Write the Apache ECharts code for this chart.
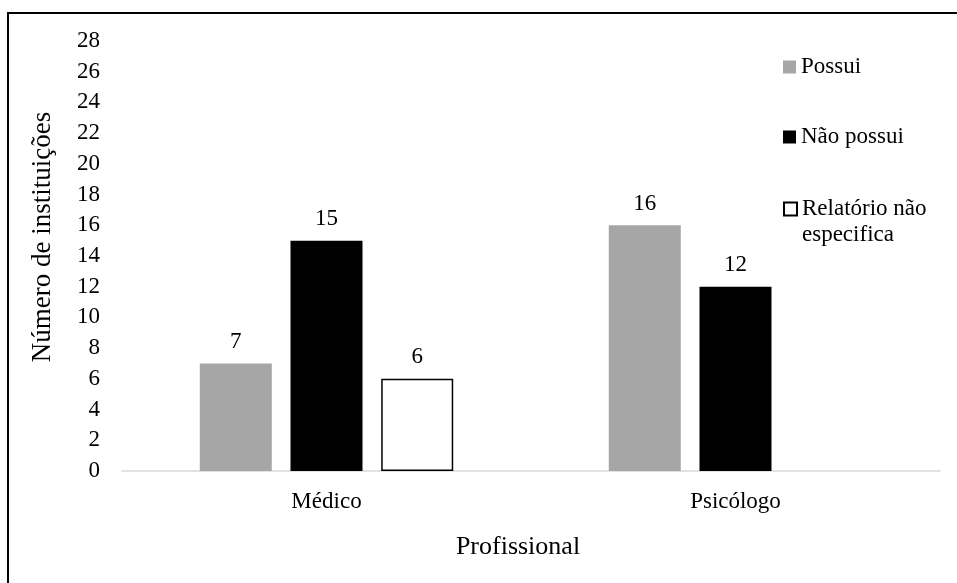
<!DOCTYPE html>
<html>
<head>
<meta charset="utf-8">
<script src="https://cdn.jsdelivr.net/npm/echarts@6/dist/echarts.min.js"></script>
<style>
  html, body { margin: 0; padding: 0; background: #fff; }
  #chart { width: 957px; height: 583px; }
</style>
</head>
<body>
<div id="chart"></div>
<script>
// Categories and counts per answer type
const categories = ['Médico', 'Psicólogo'];
const possui = [7, 16];
const naoPossui = [15, 12];
const relatorioNaoEspecifica = [6, null];
const yTicks = { min: 0, max: 28, interval: 2 };

const FONT = '"Liberation Serif", "Times New Roman", serif';
const chart = echarts.init(document.getElementById('chart'), null, { renderer: 'canvas' });

const labelStyle = {
  show: true,
  position: 'top',
  distance: 10,
  color: '#000',
  fontFamily: FONT,
  fontSize: 23
};

const legendText = { color: '#000', fontFamily: FONT, fontSize: 23, lineHeight: 26 };

// Square marker sitting in the top of a taller box, so it lines up
// with the first line of a two-line legend entry.
const topSquareIcon = 'path://M0,0L13,0L13,13L0,13Z M0,39';

function legendAt(top, name, extra) {
  return Object.assign({
    left: 783, top: top, orient: 'vertical', padding: 0,
    itemWidth: 13, itemHeight: 13, itemGap: 4,
    icon: 'rect',
    data: [name], textStyle: legendText
  }, extra || {});
}

chart.setOption({
  animation: false,
  backgroundColor: '#fff',
  grid: { left: 122, right: 17, top: 41, bottom: 112, containLabel: false },
  graphic: [
    {
      type: 'rect',
      shape: { x: 8, y: 13, width: 1200, height: 1200 },
      style: { fill: 'none', stroke: '#000', lineWidth: 2 },
      silent: true
    },
    {
      type: 'text',
      x: 43, y: 237,
      rotation: Math.PI / 2,
      style: {
        text: 'Número de instituições',
        fontFamily: FONT, fontSize: 27, fill: '#000',
        align: 'center', verticalAlign: 'middle'
      }
    },
    {
      type: 'text',
      x: 518, y: 547,
      style: {
        text: 'Profissional',
        fontFamily: FONT, fontSize: 26, fill: '#000',
        align: 'center', verticalAlign: 'middle'
      }
    }
  ],
  legend: [
    legendAt(54, 'Possui'),
    legendAt(124, 'Não possui'),
    legendAt(196, 'Relatório não especifica', {
      itemHeight: 39,
      data: [{ name: 'Relatório não especifica', icon: topSquareIcon }],
      formatter: () => 'Relatório não\nespecifica'
    })
  ],
  xAxis: {
    type: 'category',
    data: categories,
    axisLine: { lineStyle: { color: '#d9d9d9', width: 1.5 } },
    axisTick: { show: false },
    axisLabel: { color: '#000', fontFamily: FONT, fontSize: 23, margin: 19 }
  },
  yAxis: {
    type: 'value',
    min: yTicks.min, max: yTicks.max, interval: yTicks.interval,
    axisLine: { show: false },
    axisTick: { show: false },
    splitLine: { show: false },
    axisLabel: { color: '#000', fontFamily: FONT, fontSize: 23, margin: 22 }
  },
  series: [
    {
      name: 'Possui', type: 'bar', data: possui,
      barWidth: 72, barGap: '26%',
      itemStyle: { color: '#a6a6a6' },
      label: labelStyle
    },
    {
      name: 'Não possui', type: 'bar', data: naoPossui,
      barWidth: 72, barGap: '26%',
      itemStyle: { color: '#000' },
      label: labelStyle
    },
    {
      name: 'Relatório não especifica', type: 'bar', data: relatorioNaoEspecifica,
      barWidth: 72, barGap: '26%',
      itemStyle: { color: '#fff', borderColor: '#000', borderWidth: 1.5 },
      label: labelStyle
    }
  ]
});
</script>
</body>
</html>
